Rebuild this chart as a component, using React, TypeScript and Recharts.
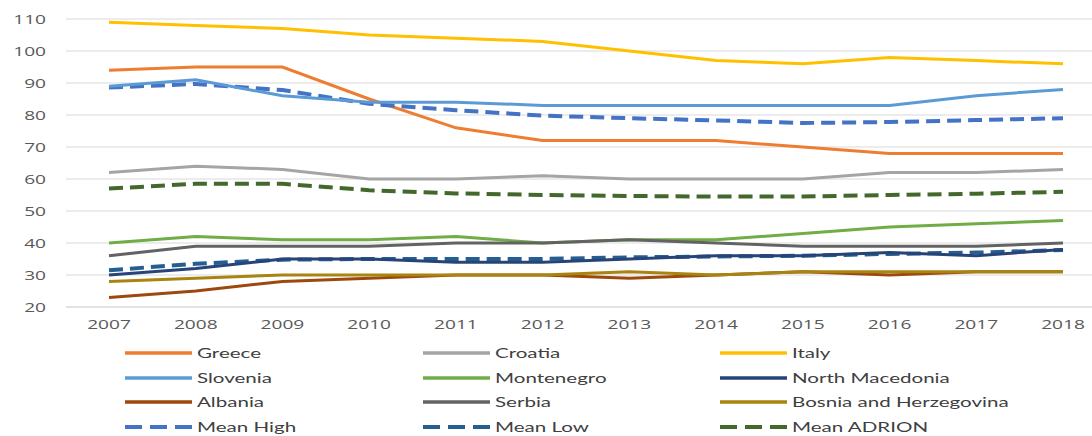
import React from "react";
import { LineChart, Line, XAxis, YAxis, CartesianGrid, Legend } from "recharts";

const years = ["2007", "2008", "2009", "2010", "2011", "2012", "2013", "2014", "2015", "2016", "2017", "2018"];
const yTicks = [20, 30, 40, 50, 60, 70, 80, 90, 100, 110];

const greece = [94, 95, 95, 85, 76, 72, 72, 72, 70, 68, 68, 68];
const croatia = [62, 64, 63, 60, 60, 61, 60, 60, 60, 62, 62, 63];
const italy = [109, 108, 107, 105, 104, 103, 100, 97, 96, 98, 97, 96];
const slovenia = [89, 91, 86, 84, 84, 83, 83, 83, 83, 83, 86, 88];
const montenegro = [40, 42, 41, 41, 42, 40, 41, 41, 43, 45, 46, 47];
const northMacedonia = [30, 32, 35, 35, 34, 34, 35, 36, 36, 37, 36, 38];
const albania = [23, 25, 28, 29, 30, 30, 29, 30, 31, 30, 31, 31];
const serbia = [36, 39, 39, 39, 40, 40, 41, 40, 39, 39, 39, 40];
const bosnia = [28, 29, 30, 30, 30, 30, 31, 30, 31, 31, 31, 31];
const meanHigh = [88.6, 89.7, 87.8, 83.5, 81.5, 79.8, 79, 78.3, 77.5, 77.8, 78.4, 79];
const meanLow = [31.5, 33.5, 34.8, 35, 35, 35, 35.5, 35.8, 36, 36.6, 37, 37.8];
const meanAdrion = [57, 58.5, 58.5, 56.5, 55.5, 55, 54.7, 54.5, 54.5, 55, 55.4, 56];

type S = { key: string; name: string; values: number[]; color: string; dashed?: boolean };

const series: S[] = [
  { key: "greece", name: "Greece", values: greece, color: "#ED7D31" },
  { key: "croatia", name: "Croatia", values: croatia, color: "#A5A5A5" },
  { key: "italy", name: "Italy", values: italy, color: "#FFC000" },
  { key: "slovenia", name: "Slovenia", values: slovenia, color: "#5B9BD5" },
  { key: "montenegro", name: "Montenegro", values: montenegro, color: "#70AD47" },
  { key: "northMacedonia", name: "North Macedonia", values: northMacedonia, color: "#264478" },
  { key: "albania", name: "Albania", values: albania, color: "#9E480E" },
  { key: "serbia", name: "Serbia", values: serbia, color: "#636363" },
  { key: "bosnia", name: "Bosnia and Herzegovina", values: bosnia, color: "#A88410" },
  { key: "meanHigh", name: "Mean High", values: meanHigh, color: "#4472C4", dashed: true },
  { key: "meanLow", name: "Mean Low", values: meanLow, color: "#255E91", dashed: true },
  { key: "meanAdrion", name: "Mean ADRION", values: meanAdrion, color: "#43682B", dashed: true },
];

const data = years.map((y, i) => {
  const row: Record<string, string | number> = { year: y };
  series.forEach((s) => {
    row[s.key] = s.values[i];
  });
  return row;
});

const drawOrder = [
  "meanAdrion", "croatia", "italy", "greece", "meanHigh", "slovenia",
  "montenegro", "serbia", "albania", "bosnia", "meanLow", "northMacedonia",
];

const TICK_FONT = "'Open Sans', sans-serif";
const STRETCH = 1.47;

const XTick = (props: any) => {
  const { x, y, payload } = props;
  return (
    <g transform={`translate(${x},${y}) scale(${STRETCH},1)`}>
      <text x={0} y={0} dy="0.71em" textAnchor="middle" fill="#595959" fontSize={13} fontFamily={TICK_FONT}>
        {payload.value}
      </text>
    </g>
  );
};

const YTick = (props: any) => {
  const { x, y, payload } = props;
  return (
    <g transform={`translate(${x},${y}) scale(${STRETCH},1)`}>
      <text x={0} y={0} dy="0.355em" textAnchor="end" fill="#595959" fontSize={13} fontFamily={TICK_FONT}>
        {payload.value}
      </text>
    </g>
  );
};

const LegendContent = () => (
  <div style={{ position: "relative", width: 1092, height: 96, fontFamily: "Lato, 'Open Sans', sans-serif", fontSize: 13, color: "#404040" }}>
    {series.map((s, i) => {
      const col = i % 3;
      const row = Math.floor(i / 3);
      const left = 125 + col * 297.5;
      const top = 1 + row * 24.7;
      return (
        <div key={s.key} style={{ position: "absolute", left, top, height: 24, display: "flex", alignItems: "center", whiteSpace: "nowrap" }}>
          <svg width={67} height={6} style={{ marginRight: 5 }}>
            {s.dashed ? (
              <line x1={0} y1={3} x2={67} y2={3} stroke={s.color} strokeWidth={4} strokeDasharray="17 8" />
            ) : (
              <line x1={0} y1={3} x2={67} y2={3} stroke={s.color} strokeWidth={3.5} />
            )}
          </svg>
          <span style={{ display: "inline-block", transform: "scaleX(1.58)", transformOrigin: "left center" }}>{s.name}</span>
        </div>
      );
    })}
  </div>
);

export default function App() {
  return (
    <div style={{ position: "absolute", left: 0, top: 0, width: 1092, height: 436, background: "#fff", overflow: "hidden" }}>
      <LineChart width={1092} height={436} data={data} margin={{ top: 19, right: 0, bottom: 0, left: 0 }}>
        <CartesianGrid vertical={false} stroke="#D9D9D9" strokeWidth={1.2} />
        <XAxis
          dataKey="year"
          axisLine={{ stroke: "#D9D9D9" }}
          tickLine={false}
          height={33}
          tickMargin={7}
          interval={0}
          padding={{ left: 43, right: 29 }}
          tick={<XTick />}
        />
        <YAxis
          domain={[20, 110]}
          ticks={yTicks}
          width={66}
          axisLine={false}
          tickLine={false}
          tickMargin={14}
          interval={0}
          tick={<YTick />}
        />
        <Legend verticalAlign="bottom" align="left" height={96} content={<LegendContent />} wrapperStyle={{ left: 0, width: 1092 }} />
        {drawOrder.map((k) => {
          const s = series.find((x) => x.key === k)!;
          return (
            <Line
              key={s.key}
              type="linear"
              dataKey={s.key}
              name={s.name}
              stroke={s.color}
              strokeWidth={s.dashed ? 4 : 3}
              strokeDasharray={s.dashed ? "14 7" : undefined}
              dot={false}
              activeDot={false}
              isAnimationActive={false}
            />
          );
        })}
      </LineChart>
    </div>
  );
}
